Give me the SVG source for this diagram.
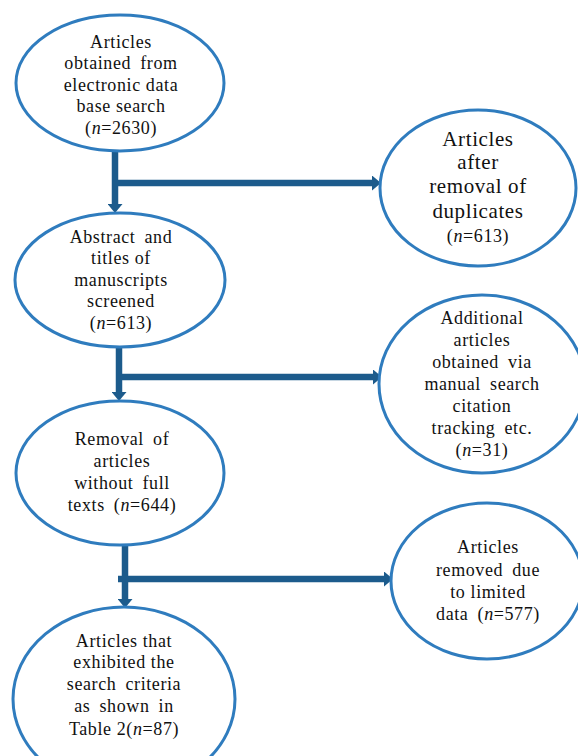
<svg xmlns="http://www.w3.org/2000/svg" width="578" height="756" viewBox="0 0 578 756">
<style>
.node ellipse{fill:#fff;stroke:#2f7cbe;stroke-width:3}
.node text{font-family:"Liberation Serif",serif;font-size:18px;letter-spacing:0.6px;fill:#111;text-anchor:middle}
.node text.big{font-size:21px;letter-spacing:0.6px}
.node text.w{word-spacing:4px}
.conn path{fill:none;stroke:#1c5b8c;stroke-width:6.5}
.i{font-style:italic}
</style>
<defs>
<marker id="arr" markerUnits="userSpaceOnUse" markerWidth="9" markerHeight="15" refX="0" refY="7.5" orient="auto">
<path d="M0,0 L9,7.5 L0,15 z" fill="#1c5b8c"/>
</marker>
</defs>
<rect width="578" height="756" fill="#fff"/>
<g id="connectors" class="conn">
<path d="M115,152 V204" marker-end="url(#arr)"/>
<path d="M115,183 H372" marker-end="url(#arr)"/>
<path d="M119,347 V392" marker-end="url(#arr)"/>
<path d="M119,377 H373" marker-end="url(#arr)"/>
<path d="M125,545 V599" marker-end="url(#arr)"/>
<path d="M118,579 H384" marker-end="url(#arr)"/>
</g>
<g id="n1" class="node">
<ellipse cx="120" cy="83" rx="104" ry="68"/>
<text x="121" y="48">Articles</text>
<text class="w" x="121" y="69">obtained from</text>
<text x="121" y="91">electronic data</text>
<text x="121" y="112">base search</text>
<text x="121" y="134">(<tspan class="i">n</tspan>=2630)</text>
</g>
<g id="n2" class="node">
<ellipse cx="120" cy="280" rx="105" ry="67"/>
<text class="w" x="121" y="243">Abstract and</text>
<text x="121" y="264">titles of</text>
<text x="121" y="286">manuscripts</text>
<text x="121" y="307">screened</text>
<text x="121" y="329">(<tspan class="i">n</tspan>=613)</text>
</g>
<g id="n3" class="node">
<ellipse cx="120" cy="473" rx="104" ry="72"/>
<text class="w" x="122" y="445">Removal of</text>
<text x="122" y="467">articles</text>
<text class="w" x="122" y="489">without full</text>
<text class="w" x="122" y="511">texts (<tspan class="i">n</tspan>=644)</text>
</g>
<g id="n4" class="node">
<ellipse cx="124" cy="699" rx="111" ry="92"/>
<text x="124" y="647">Articles that</text>
<text x="124" y="668">exhibited the</text>
<text class="w" x="124" y="690">search criteria</text>
<text class="w" x="124" y="712">as shown in</text>
<text x="124" y="735">Table 2(<tspan class="i">n</tspan>=87)</text>
</g>
<g id="r1" class="node">
<ellipse cx="478" cy="188" rx="98" ry="78"/>
<text class="big" x="478" y="146">Articles</text>
<text class="big" x="478" y="169">after</text>
<text class="big" x="478" y="193">removal of</text>
<text class="big" x="478" y="218">duplicates</text>
<text x="478" y="242">(<tspan class="i">n</tspan>=613)</text>
</g>
<g id="r2" class="node">
<ellipse cx="482" cy="384" rx="103" ry="89"/>
<text x="482" y="324">Additional</text>
<text x="482" y="346">articles</text>
<text class="w" x="482" y="368">obtained via</text>
<text class="w" x="482" y="390">manual search</text>
<text x="482" y="412">citation</text>
<text class="w" x="482" y="434">tracking etc.</text>
<text x="482" y="456">(<tspan class="i">n</tspan>=31)</text>
</g>
<g id="r3" class="node">
<ellipse cx="487" cy="581" rx="96" ry="78"/>
<text x="488" y="553">Articles</text>
<text class="w" x="488" y="576">removed due</text>
<text x="488" y="598">to limited</text>
<text class="w" x="488" y="620">data (<tspan class="i">n</tspan>=577)</text>
</g>
</svg>
